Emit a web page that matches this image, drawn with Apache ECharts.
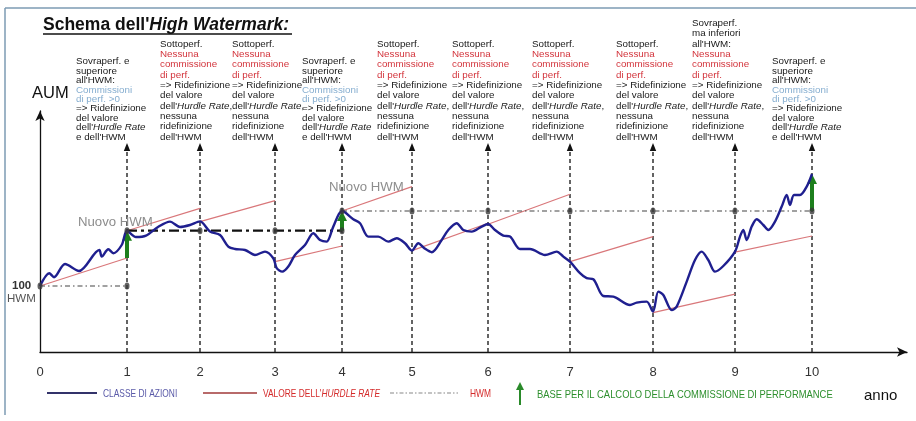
<!DOCTYPE html>
<html><head><meta charset="utf-8">
<script src="https://cdn.jsdelivr.net/npm/echarts@6/dist/echarts.min.js"></script>
<style>html,body{margin:0;padding:0;background:#fff}#c{width:916px;height:421px}</style>
</head><body><div id="c"></div>
<script>
// ---------- data ----------
const yearLabels = ['0','1','2','3','4','5','6','7','8','9','10'];
// position of each year along the (irregularly spaced) time axis
const yearT = [0, 87, 160, 235, 302, 372, 448, 530, 613, 695, 772];

// AUM of the equity class (blue curve), [time, value]
const aumCurve = [
  [0,100],[9.3,106.4],[14,104.4],[25,111],[39,107.5],[59.3,118],[61.7,114.7],[68.3,118.4],[73.3,116.4],[81.7,120.5],[87,127.65],
  [96,124.5],[106,125.2],[118,129.5],[130,132.2],[140,129.5],[150,130.5],[160,132.3],
  [170,127.2],[180,125.5],[188.3,119.7],[195,118.5],[205,118],[215,115.5],[225,117.2],[233.3,113.9],[236.7,108.9],[242.3,107.2],[248.3,109.7],
  [255,115.5],[265,120.5],[273.3,126.4],[280,123],[286.7,122.2],[293.3,129.7],[302,137.5],
  [313.3,133.4],[320,131.4],[328.3,124.7],[338.3,124.7],[348.3,122.2],[356.7,123.9],[365,121.4],[372,117.7],
  [378.3,121.4],[384.3,118.9],[391.7,116.9],[401.7,123],[408.3,128],[416.7,131.4],[423.3,128],[431.7,127.2],[441.7,129.7],[448,131],
  [455,128],[463.3,125.2],[470,124.7],[480,118.5],[490,118.5],[505,115.5],[516.7,117.2],[523.3,114.7],[530,112.2],
  [540,106.4],[546.7,103.9],[553.3,103.4],[563.3,95],[573.3,94.7],[590,90.5],[596.7,91.7],[606.7,92.2],[613,87.2],
  [618.3,97.2],[623.3,95.5],[631.7,88],[636.7,89.7],[646.7,102.2],[655,113],[661.7,117.2],[668.3,113],[675,107.2],[683.3,110],[695,117.2],
  [700,124.7],[703.3,128],[706.7,123],[711.7,129.7],[716.7,133.4],[723.3,130.5],[728.3,128],[735,132.2],[741.7,139.7],[746.7,145.5],
  [750,140.5],[754,145.5],[760,145.5],[766.7,149.7],[772,156]
];

// hurdle-rate segments: value at start of year i and at end (year i+1)
const hurdleStartValue = [100, 127.65, 132.2, 112.2, 137.5, 117.7, 130.9, 112.2, 86.7, 116.9];
const hurdleEndValue   = [114, 138.8, 142.7, 120, 149.7, 131.4, 145.9, 124.7, 95.9, 125];

// high watermark levels and the years they span
const hwmLevel    = [100, 127.65, 137.5];
const hwmFromYear = [0, 1, 4];
const hwmToYear   = [1, 4, 10];

// performance-fee base arrows (green)
const feeYear = [1, 4, 10];
const feeBase = [114, 127.65, 137.5];
const feeTop  = [127.65, 137.5, 156];

const Y_MIN = 67, Y_MAX = 187.5, MARKER_TOP = 171.5;

// ---------- build ----------
const hurdleLines = hurdleStartValue.map((v, i) => ({coords: [[yearT[i], v], [yearT[i+1], hurdleEndValue[i]]]}));
const hwmData = hwmLevel.map((lv, k) => yearT.slice(hwmFromYear[k], hwmToYear[k] + 1).map(t => [t, lv]));
const hwmDots = [].concat(...hwmData);

const FF = "'Liberation Sans', Arial, sans-serif";

function block(x, top, text, lh) {
  const fs = 9.8;
  return {type: 'text', x: x, y: top, z: 20, style: {
    text: text, fill: '#1a1a1a', fontSize: fs, fontFamily: FF, lineHeight: lh,
    align: 'left', verticalAlign: 'top',
    rich: {
      r: {fill: '#d3343c', fontSize: fs, fontFamily: FF, lineHeight: lh},
      b: {fill: '#86aed0', fontSize: fs, fontFamily: FF, lineHeight: lh},
      i: {fill: '#1a1a1a', fontSize: fs, fontFamily: FF, lineHeight: lh, fontStyle: 'italic'}
    }
  }};
}
function narrow(x, y, text, fs, color, rich) {
  return {type: 'text', x: x, y: y, scaleX: 0.8, style: {text: text, fontSize: fs, fontFamily: FF, fill: color, verticalAlign: 'middle', rich: rich}};
}
const sovraText = "Sovraperf. e\nsuperiore\nall'HWM:\n{b|Commissioni}\n{b|di perf. >0}\n=> Ridefinizione\ndel valore\ndell'{i|Hurdle Rate}\ne dell'HWM";
const sottoText = "Sottoperf.\n{r|Nessuna}\n{r|commissione}\n{r|di perf.}\n=> Ridefinizione\ndel valore\ndell'{i|Hurdle Rate},\nnessuna\nridefinizione\ndell'HWM";
const sovraInfText = "Sovraperf.\nma inferiori\nall'HWM:\n{r|Nessuna}\n{r|commissione}\n{r|di perf.}\n=> Ridefinizione\ndel valore\ndell'{i|Hurdle Rate},\nnessuna\nridefinizione\ndell'HWM";
const LH1 = 9.4, LH2 = 10.35;

const graphics = [
  // frame
  {type: 'line', shape: {x1: 5, y1: 8, x2: 916, y2: 8}, style: {stroke: '#7d9bb3', lineWidth: 1.5}},
  {type: 'line', shape: {x1: 5, y1: 8, x2: 5, y2: 415}, style: {stroke: '#7d9bb3', lineWidth: 1.5}},
  // title
  {type: 'text', x: 43, y: 25, style: {text: "{a|Schema dell'}{b|High Watermark:}", verticalAlign: 'middle',
    rich: {a: {fontSize: 17.5, fontWeight: 'bold', fontFamily: FF, fill: '#111'},
           b: {fontSize: 17.5, fontWeight: 'bold', fontStyle: 'italic', fontFamily: FF, fill: '#111'}}}},
  {type: 'line', shape: {x1: 43, y1: 34, x2: 292, y2: 34}, style: {stroke: '#111', lineWidth: 1.4}},
  // AUM
  {type: 'text', x: 32, y: 93, style: {text: 'AUM', fontSize: 16.5, fontFamily: FF, fill: '#111', verticalAlign: 'middle'}},
  {type: 'text', x: 12, y: 286, style: {text: '100', fontSize: 11.5, fontWeight: 'bold', fontFamily: FF, fill: '#333', verticalAlign: 'middle'}},
  {type: 'text', x: 7, y: 299, style: {text: 'HWM', fontSize: 11.5, fontFamily: FF, fill: '#555', verticalAlign: 'middle'}},
  {type: 'text', x: 78, y: 222, z: 20, style: {text: 'Nuovo HWM', fontSize: 13.2, fontFamily: FF, fill: '#8d8d8d', verticalAlign: 'middle'}},
  {type: 'text', x: 329, y: 187, z: 20, style: {text: 'Nuovo HWM', fontSize: 13.2, fontFamily: FF, fill: '#8d8d8d', verticalAlign: 'middle'}},
  // annotation blocks
  block(76, 57, sovraText, LH1),
  block(160, 38.7, sottoText, LH2),
  block(232, 38.7, sottoText, LH2),
  block(302, 57, sovraText, LH1),
  block(377, 38.7, sottoText, LH2),
  block(452, 38.7, sottoText, LH2),
  block(532, 38.7, sottoText, LH2),
  block(616, 38.7, sottoText, LH2),
  block(692, 18, sovraInfText, LH2),
  block(772, 57, sovraText, LH1),
  // legend
  {type: 'line', shape: {x1: 47, y1: 393, x2: 97, y2: 393}, style: {stroke: '#33336a', lineWidth: 2}},
  narrow(103, 394, 'CLASSE DI AZIONI', 10.5, '#5a5aa8'),
  {type: 'line', shape: {x1: 203, y1: 393, x2: 257, y2: 393}, style: {stroke: '#b86a6a', lineWidth: 2}},
  narrow(263, 394, "{n|VALORE DELL'}{i|HURDLE RATE}", 10.5, '#d42a2a',
    {n: {fontSize: 10.5, fontFamily: FF, fill: '#d42a2a'}, i: {fontSize: 10.5, fontFamily: FF, fill: '#d42a2a', fontStyle: 'italic'}}),
  {type: 'line', shape: {x1: 390, y1: 393, x2: 458, y2: 393}, style: {stroke: '#b0b0b0', lineWidth: 1.3, lineDash: [4, 2, 1.5, 2]}},
  narrow(470, 394, 'HWM', 10.5, '#d42a2a'),
  {type: 'line', shape: {x1: 520, y1: 405, x2: 520, y2: 389}, style: {stroke: '#2a8a2a', lineWidth: 2}},
  {type: 'polygon', shape: {points: [[516, 390], [524, 390], [520, 382]]}, style: {fill: '#2a8a2a'}},
  narrow(537, 395, 'BASE PER IL CALCOLO DELLA COMMISSIONE DI PERFORMANCE', 11.75, '#2d8f2d'),
  {type: 'text', x: 864, y: 396, style: {text: 'anno', fontSize: 15, fontFamily: FF, fill: '#111', verticalAlign: 'middle'}}
];

const chart = echarts.init(document.getElementById('c'), null, {renderer: 'canvas'});
chart.setOption({
  backgroundColor: '#fff',
  animation: false,
  grid: {left: 40, right: 9, top: 111, bottom: 69},
  xAxis: {
    type: 'value', min: 0, max: 867,
    axisLine: {show: true, symbol: ['none', 'arrow'], symbolSize: [7, 10], lineStyle: {color: '#111', width: 1.3}},
    axisTick: {show: false}, splitLine: {show: false},
    axisLabel: {customValues: yearT, margin: 14, fontSize: 13, fontFamily: FF, color: '#333',
      formatter: v => yearLabels[yearT.indexOf(v)]}
  },
  yAxis: {
    type: 'value', min: Y_MIN, max: Y_MAX,
    axisLine: {show: true, symbol: ['none', 'arrow'], symbolSize: [7, 10], lineStyle: {color: '#111', width: 1.3}},
    axisTick: {show: false}, axisLabel: {show: false}, splitLine: {show: false}
  },
  graphic: graphics,
  series: [
    {
      type: 'custom', name: 'years', z: 1,
      data: yearT.slice(1).map(t => [t, MARKER_TOP]),
      encode: {x: 0, y: 1},
      renderItem: (p, api) => {
        const t = api.value(0);
        const b = api.coord([t, Y_MIN]);
        const tp = api.coord([t, MARKER_TOP]);
        return {type: 'group', children: [
          {type: 'line', shape: {x1: b[0], y1: b[1], x2: tp[0], y2: tp[1] + 6}, style: {stroke: '#222', lineWidth: 1.4, lineDash: [4, 3]}},
          {type: 'polygon', shape: {points: [[tp[0] - 3.2, tp[1] + 8], [tp[0] + 3.2, tp[1] + 8], [tp[0], tp[1]]]}, style: {fill: '#111'}}
        ]};
      }
    },
    {
      type: 'lines', name: 'hurdle', coordinateSystem: 'cartesian2d', z: 2,
      data: hurdleLines, lineStyle: {color: '#d9777a', width: 1.2, opacity: 1}
    },
    {
      type: 'line', name: 'hwm0', data: hwmData[0], showSymbol: false, z: 3,
      lineStyle: {color: '#444', width: 1.2, type: [5, 3, 1.5, 3]}
    },
    {
      type: 'line', name: 'hwm1', data: hwmData[1], showSymbol: false, z: 3,
      lineStyle: {color: '#111', width: 2.2, type: [10, 4, 3, 4]}
    },
    {
      type: 'line', name: 'hwm2', data: hwmData[2], showSymbol: false, z: 3,
      lineStyle: {color: '#444', width: 1.2, type: [5, 3, 1.5, 3]}
    },
    {
      type: 'custom', name: 'fee', z: 4,
      data: feeYear.map((y, i) => [yearT[y], feeBase[i], feeTop[i]]),
      encode: {x: 0, y: [1, 2]},
      renderItem: (p, api) => {
        const t = api.value(0);
        const b = api.coord([t, api.value(1)]);
        const tp = api.coord([t, api.value(2)]);
        return {type: 'group', children: [
          {type: 'rect', shape: {x: tp[0] - 2, y: tp[1] + 8, width: 4, height: b[1] - tp[1] - 8}, style: {fill: '#1d7f1d'}},
          {type: 'polygon', shape: {points: [[tp[0] - 5, tp[1] + 10], [tp[0] + 5, tp[1] + 10], [tp[0], tp[1]]]}, style: {fill: '#1d7f1d'}}
        ]};
      }
    },
    {
      type: 'line', name: 'AUM', data: aumCurve, smooth: 0.3, showSymbol: false, z: 5,
      lineStyle: {color: '#1f1f8f', width: 2.4}
    },
    {
      type: 'scatter', name: 'hwmDots', data: hwmDots, z: 6,
      symbol: 'circle', symbolSize: [5, 7], itemStyle: {color: '#3a3a3a'}
    }
  ]
});
</script>
</body></html>
